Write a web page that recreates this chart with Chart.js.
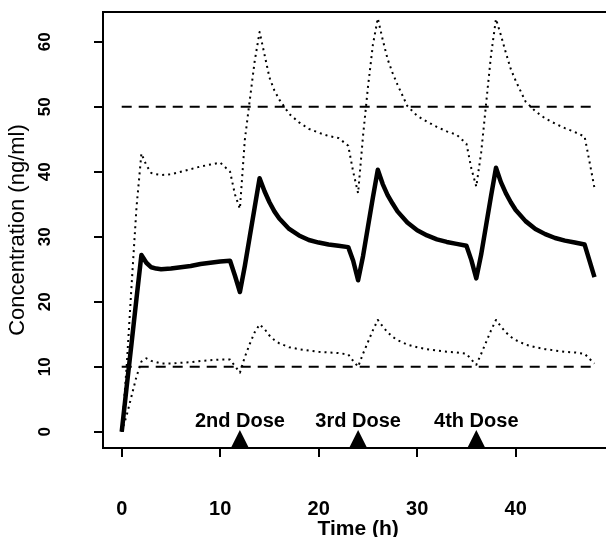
<!DOCTYPE html>
<html>
<head>
<meta charset="utf-8">
<title>Concentration over time</title>
<script src="https://cdn.jsdelivr.net/npm/chart.js@4.4.1/dist/chart.umd.min.js"></script>
<style>
  html, body { margin: 0; padding: 0; background: #fff; }
  #chart { display: block; }
</style>
</head>
<body>
<canvas id="chart" width="606" height="537"></canvas>
<script>
"use strict";

// sampling times (h), shared by the three curves
var times = [0, 0.5, 1, 1.5, 2, 2.5, 3, 3.5, 4,
	5, 6, 7, 8, 9, 10, 11,
	11.5, 12, 12.5, 13, 13.5, 14, 14.5, 15, 15.5, 16,
	17, 18, 19, 20, 21, 22, 23,
	23.5, 24, 24.5, 25, 25.5, 26, 26.5, 27, 27.5, 28,
	29, 30, 31, 32, 33, 34, 35,
	35.5, 36, 36.5, 37, 37.5, 38, 38.5, 39, 39.5, 40,
	41, 42, 43, 44, 45, 46, 47,
	47.5, 48];

// mean concentration (solid line)
var meanConc = [0, 6.9, 13.6, 20.5, 27.2, 26.0, 25.3, 25.1, 25.0,
	25.1, 25.3, 25.5, 25.8, 26.0, 26.2, 26.3,
	24.0, 21.5, 25.5, 30.0, 34.5, 39.0, 37.0, 35.3, 33.9, 32.8,
	31.2, 30.2, 29.5, 29.1, 28.8, 28.6, 28.4,
	26.3, 23.3, 27.0, 31.5, 36.0, 40.3, 38.1, 36.4, 35.1, 33.9,
	32.2, 31.0, 30.2, 29.6, 29.2, 28.9, 28.6,
	26.4, 23.6, 27.3, 31.8, 36.3, 40.6, 38.4, 36.7, 35.3, 34.1,
	32.4, 31.2, 30.4, 29.8, 29.4, 29.1, 28.8,
	26.3, 23.8];

// upper bound (dotted)
var upperConc = [0, 10, 22.5, 34.5, 42.8, 41.0, 39.8, 39.6, 39.5,
	39.6, 40.0, 40.4, 40.8, 41.1, 41.4, 40.0,
	36.5, 34.3, 44.9, 51.0, 57.0, 61.5, 58.0, 54.5, 52.5, 51.1,
	48.9, 47.6, 46.6, 46.0, 45.5, 45.2, 44.0,
	40.0, 36.7, 45.5, 53.0, 59.5, 63.6, 60.3, 57.3, 55.2, 53.4,
	50.1, 48.6, 47.7, 46.9, 46.2, 45.7, 44.3,
	40.5, 37.7, 43.0, 50.5, 58.0, 63.5, 61.0, 58.3, 55.8, 54.0,
	50.8, 49.3, 48.2, 47.4, 46.7, 46.1, 45.4,
	41.5, 37.5];

// lower bound (dotted)
var lowerConc = [0, 2.5, 5.5, 8.5, 10.8, 11.3, 10.9, 10.7, 10.5,
	10.5, 10.6, 10.7, 10.9, 11.0, 11.1, 11.1,
	10.1, 9.1, 11.5, 13.5, 15.3, 16.5, 15.8, 14.8, 14.1, 13.6,
	13.0, 12.7, 12.5, 12.3, 12.2, 12.1, 11.9,
	10.9, 10.0, 12.0, 13.8, 15.6, 17.2, 16.2, 15.3, 14.6, 14.1,
	13.4, 13.0, 12.7, 12.5, 12.3, 12.2, 12.0,
	11.1, 10.3, 12.0, 13.8, 15.6, 17.2, 16.2, 15.3, 14.6, 14.1,
	13.4, 13.0, 12.7, 12.5, 12.3, 12.2, 12.0,
	11.2, 10.5];

// therapeutic window (dashed lines)
var limitTimes = [0, 48];
var upperLimit = [50, 50];
var lowerLimit = [10, 10];

// dose markers
var doseTimes = [12, 24, 36];
var doseLabels = ["2nd Dose", "3rd Dose", "4th Dose"];

// ticks and titles
var xTicks = [0, 10, 20, 30, 40];
var yTicks = [0, 10, 20, 30, 40, 50, 60];
var xTitle = "Time (h)";
var yTitle = "Concentration (ng/ml)";

var FONT = "'Liberation Sans', Arial, Helvetica, sans-serif";

// build {x,y} pairs for a linear x axis
function pairs(xs, ys) {
	return xs.map(function(x, i) { return { x: x, y: ys[i] }; });
}

function lineSet(label, xs, ys, width, dash) {
	return {
		label: label,
		data: pairs(xs, ys),
		borderColor: "#000",
		borderWidth: width,
		borderDash: dash,
		borderJoinStyle: "round",
		pointRadius: 0,
		tension: 0,
		fill: false
	};
}

// draws the R-like extras: top box line, rotated y labels, dose triangles, titles
var rAnnotations = {
	id: "rAnnotations",
	afterDraw: function(chart) {
		var ctx = chart.ctx;
		var area = chart.chartArea;
		var xScale = chart.scales.x;
		var yScale = chart.scales.y;
		ctx.save();

		// top of the plot box (right side runs off the picture)
		ctx.strokeStyle = "#000";
		ctx.lineWidth = 2;
		ctx.beginPath();
		ctx.moveTo(area.left - 1, area.top);
		ctx.lineTo(area.right, area.top);
		ctx.stroke();

		// dose triangles sitting on the x axis, with labels
		ctx.fillStyle = "#000";
		ctx.font = "bold 20px " + FONT;
		ctx.textAlign = "center";
		ctx.textBaseline = "alphabetic";
		doseTimes.forEach(function(t, i) {
			var px = xScale.getPixelForValue(t);
			ctx.beginPath();
			ctx.moveTo(px - 9, area.bottom);
			ctx.lineTo(px, area.bottom - 18);
			ctx.lineTo(px + 9, area.bottom);
			ctx.closePath();
			ctx.fill();
			ctx.fillText(doseLabels[i], px, area.bottom - 21);
		});

		// y tick labels, parallel to the axis
		ctx.font = "bold 17px " + FONT;
		ctx.textBaseline = "middle";
		yScale.ticks.forEach(function(tick) {
			var py = yScale.getPixelForValue(tick.value);
			ctx.save();
			ctx.translate(45, py);
			ctx.rotate(-Math.PI / 2);
			ctx.fillText(String(tick.value), 0, 0);
			ctx.restore();
		});

		// axis titles
		ctx.font = "22px " + FONT;
		ctx.save();
		ctx.translate(18, (area.top + area.bottom) / 2);
		ctx.rotate(-Math.PI / 2);
		ctx.fillText(yTitle, 0, 0);
		ctx.restore();

		ctx.font = "bold 21px " + FONT;
		ctx.textBaseline = "alphabetic";
		ctx.fillText(xTitle, xScale.getPixelForValue(24), 535);

		ctx.restore();
	}
};

var ctx = document.getElementById("chart").getContext("2d");
var chart = new Chart(ctx, {
	type: "line",
	data: {
		datasets: [
			lineSet("Upper limit", limitTimes, upperLimit, 2, [10, 7]),
			lineSet("Lower limit", limitTimes, lowerLimit, 2, [10, 7]),
			lineSet("Upper", times, upperConc, 2, [2, 4]),
			lineSet("Lower", times, lowerConc, 2, [2, 4]),
			lineSet("Mean", times, meanConc, 4.5, [])
		]
	},
	options: {
		responsive: false,
		animation: false,
		layout: { padding: { top: 12, left: 0, right: 0, bottom: 0 } },
		plugins: {
			legend: { display: false },
			tooltip: { enabled: false }
		},
		scales: {
			x: {
				type: "linear",
				min: -1.9,
				max: 49.17,
				afterBuildTicks: function(scale) {
					scale.ticks = xTicks.map(function(v) { return { value: v }; });
				},
				afterFit: function(scale) { scale.height = 89; },
				grid: { drawOnChartArea: false, color: "#000", lineWidth: 2, tickLength: 9 },
				border: { color: "#000", width: 2 },
				ticks: {
					color: "#000",
					font: { family: FONT, size: 20, weight: "bold" },
					padding: 40,
					maxRotation: 0,
					autoSkip: false
				}
			},
			y: {
				type: "linear",
				min: -2.5,
				max: 64.57,
				afterBuildTicks: function(scale) {
					scale.ticks = yTicks.map(function(v) { return { value: v }; });
				},
				afterFit: function(scale) { scale.width = 103; },
				grid: { drawOnChartArea: false, color: "#000", lineWidth: 2, tickLength: 9 },
				border: { color: "#000", width: 2 },
				ticks: { display: false }
			}
		}
	},
	plugins: [rAnnotations]
});
</script>
</body>
</html>
